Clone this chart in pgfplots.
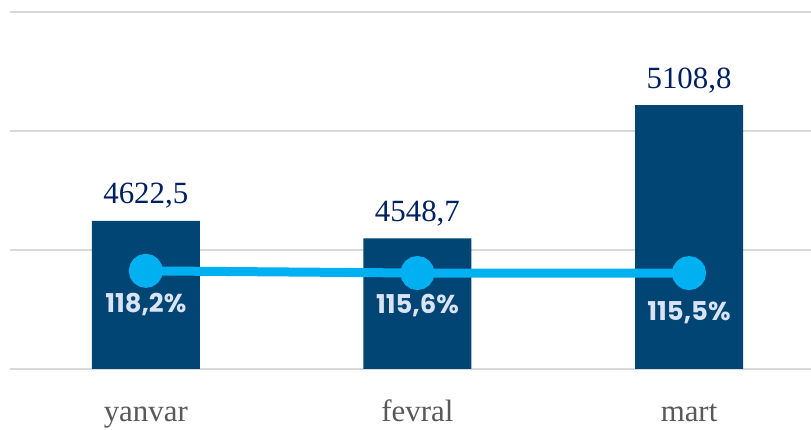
\documentclass[border=0pt]{standalone}
\usepackage{fontspec}
\setmainfont{Liberation Serif}
\newfontfamily\pop{Poppins}
\usepackage{pgfplots}
\pgfplotsset{compat=1.18}
\usepackage{pgfplotstable}
\definecolor{barc}{RGB}{0,69,115}
\definecolor{linec}{RGB}{0,176,240}
\definecolor{valc}{RGB}{0,32,96}
\definecolor{pctc}{RGB}{218,227,243}
\definecolor{gridc}{RGB}{217,217,217}
\definecolor{tickc}{RGB}{89,89,89}

\pgfplotstableread{
x val
0 4622.5
1 4548.7
2 5108.8
}\bars
\pgfplotstableread{
x pct off
0 118.2 34
1 115.6 32
2 115.5 40
}\pcts

\begin{document}
\begin{tikzpicture}
\path[use as bounding box] (0,0) rectangle (811bp,430bp);
\begin{axis}[
  at={(10bp,61bp)}, anchor=south west,
  scale only axis, width=801bp, height=357bp,
  xmin=-0.5, xmax=2.449, ymin=4000, ymax=5500,
  ytick={4000,4500,5000,5500}, yticklabels={},
  ymajorgrids, grid style={gridc, line width=1.5bp},
  axis line style={draw=none}, major tick length=0pt,
  xtick={0,1,2}, xticklabels={yanvar,fevral,mart},
  xticklabel style={font=\fontsize{31}{31}\selectfont, text=tickc, anchor=base, yshift=-52bp},
]
\addplot[ybar, bar width=108bp, fill=barc, draw=none,
  point meta=y,
  nodes near coords={\pgfmathprintnumber[assume math mode=true,fixed,fixed zerofill,precision=1,use comma,1000 sep={}]{\pgfplotspointmeta}},
  every node near coord/.style={font=\fontsize{31}{31}\selectfont, text=valc, anchor=base, yshift=17bp, inner sep=0pt},
] table[x=x, y=val] {\bars};
\end{axis}
\begin{axis}[
  at={(10bp,61bp)}, anchor=south west,
  scale only axis, width=801bp, height=357bp,
  xmin=-0.5, xmax=2.449, ymin=0, ymax=430,
  hide axis,
]
\addplot[linec, line width=9bp, mark=*, mark size=12.5bp,
  mark options={solid, fill=linec, draw=none},
  point meta=y,
  visualization depends on={\thisrow{off} \as \off},
  nodes near coords={\pgfmathprintnumber[assume math mode=true,fixed,fixed zerofill,precision=1,use comma]{\pgfplotspointmeta}\%},
  every node near coord/.style={font=\pop\bfseries\fontsize{26}{26}\selectfont, text=pctc, anchor=center, yshift=-1bp*\off, inner sep=0pt},
] table[x=x, y=pct] {\pcts};
\end{axis}
\end{tikzpicture}
\end{document}
